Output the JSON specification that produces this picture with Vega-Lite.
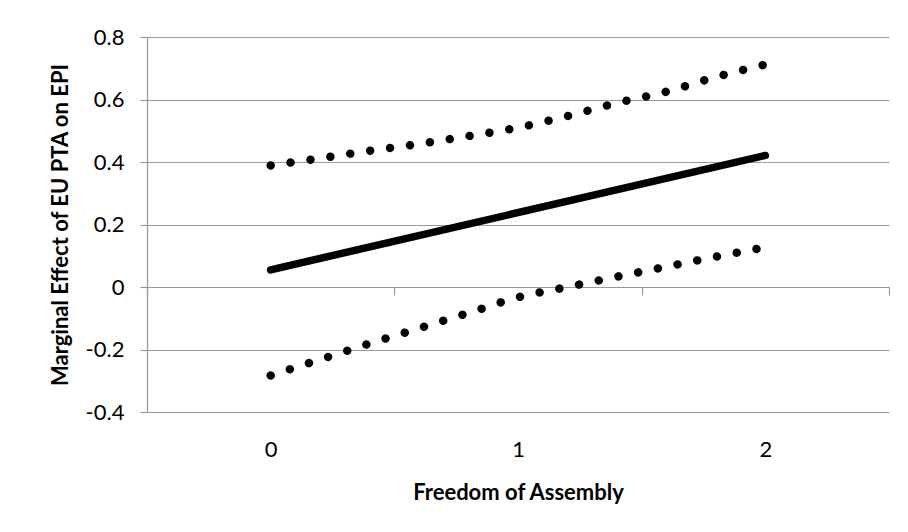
{
  "$schema": "https://vega.github.io/schema/vega-lite/v6.json",
  "width": 742,
  "height": 375,
  "autosize": {"type": "none"},
  "padding": {"left": 147, "top": 37, "right": 19, "bottom": 120},
  "background": "white",
  "config": {
    "view": {"stroke": null},
    "font": "Lato",
    "axis": {"labelFont": "Lato", "titleFont": "Lato", "labelColor": "#000000", "titleColor": "#000000"}
  },
  "datasets": {
    "bounds": [
      {"freedom": 0.0, "series": "upper", "effect": 0.389},
      {"freedom": 0.2, "series": "upper", "effect": 0.412},
      {"freedom": 0.4, "series": "upper", "effect": 0.436},
      {"freedom": 0.6, "series": "upper", "effect": 0.458},
      {"freedom": 0.8, "series": "upper", "effect": 0.483},
      {"freedom": 1.0, "series": "upper", "effect": 0.510},
      {"freedom": 1.2, "series": "upper", "effect": 0.547},
      {"freedom": 1.4, "series": "upper", "effect": 0.589},
      {"freedom": 1.6, "series": "upper", "effect": 0.625},
      {"freedom": 1.8, "series": "upper", "effect": 0.672},
      {"freedom": 2.0, "series": "upper", "effect": 0.712},
      {"freedom": 0.0, "series": "lower", "effect": -0.283},
      {"freedom": 0.2, "series": "lower", "effect": -0.232},
      {"freedom": 0.4, "series": "lower", "effect": -0.181},
      {"freedom": 0.6, "series": "lower", "effect": -0.132},
      {"freedom": 0.8, "series": "lower", "effect": -0.083},
      {"freedom": 1.0, "series": "lower", "effect": -0.033},
      {"freedom": 1.2, "series": "lower", "effect": 0.000},
      {"freedom": 1.4, "series": "lower", "effect": 0.033},
      {"freedom": 1.6, "series": "lower", "effect": 0.065},
      {"freedom": 1.8, "series": "lower", "effect": 0.097},
      {"freedom": 2.0, "series": "lower", "effect": 0.127}
    ],
    "estimate": [
      {"freedom": 0.0, "effect": 0.055},
      {"freedom": 2.0, "effect": 0.421}
    ]
  },
  "layer": [
    {
      "data": {"name": "bounds"},
      "mark": {"type": "line", "color": "#000000", "strokeWidth": 8.5, "strokeCap": "round", "strokeDash": [0.01, 20.1], "interpolate": "monotone"},
      "encoding": {
        "x": {
          "field": "freedom", "type": "quantitative",
          "scale": {"domain": [-0.5, 2.5], "nice": false, "zero": false},
          "axis": {
            "title": "Freedom of Assembly",
            "values": [-0.5, 0, 0.5, 1, 1.5, 2, 2.5],
            "grid": false,
            "offset": -125,
            "domainColor": "#999999",
            "domainWidth": 1.2,
            "tickColor": "#999999",
            "tickWidth": 1.2,
            "tickSize": 8,
            "tickOpacity": {"condition": {"test": "datum.value % 1 === 0", "value": 0}, "value": 1},
            "labelExpr": "datum.value % 1 === 0 ? format(datum.value, 'd') : ''",
            "labelPadding": 144,
            "labelFontSize": 22,
            "titleFontSize": 22,
            "titleFontWeight": "bold",
            "titlePadding": 22
          }
        },
        "y": {
          "field": "effect", "type": "quantitative",
          "scale": {"domain": [-0.4, 0.8], "nice": false, "zero": false},
          "axis": {
            "title": "Marginal Effect of EU PTA on EPI",
            "values": [-0.4, -0.2, 0, 0.2, 0.4, 0.6, 0.8],
            "labelExpr": "datum.value === 0 ? '0' : replace(format(datum.value, '.1f'), '\u2212', '-')",
            "grid": true,
            "gridColor": "#999999",
            "gridWidth": 1.2,
            "domainColor": "#999999",
            "domainWidth": 1.2,
            "tickColor": "#999999",
            "tickWidth": 1.2,
            "tickSize": 7,
            "labelPadding": 16,
            "labelFontSize": 22,
            "titleFontSize": 22,
            "titleFontWeight": "bold",
            "titlePadding": 13
          }
        },
        "detail": {"field": "series"}
      }
    },
    {
      "data": {"name": "estimate"},
      "mark": {"type": "line", "color": "#000000", "strokeWidth": 7.5, "strokeCap": "round"},
      "encoding": {
        "x": {"field": "freedom", "type": "quantitative"},
        "y": {"field": "effect", "type": "quantitative"}
      }
    }
  ]
}
